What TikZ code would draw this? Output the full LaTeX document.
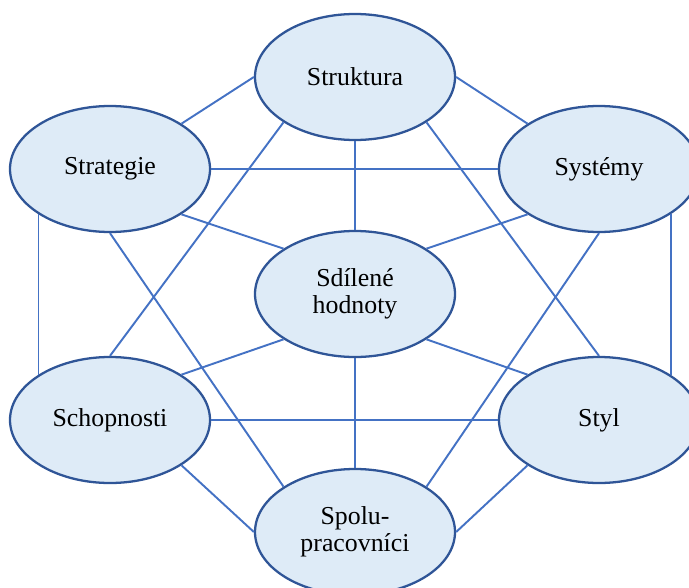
\documentclass[tikz,border=0pt]{standalone}
\usepackage{fontspec}
\setmainfont{Liberation Serif}
\usetikzlibrary{shapes.geometric}

\definecolor{sfill}{HTML}{DEEBF7}
\definecolor{sborder}{HTML}{2F5597}
\definecolor{sline}{HTML}{4472C4}

\begin{document}
\begin{tikzpicture}[
  prvek/.style={ellipse,draw=sborder,line width=1.3pt,fill=sfill,
    minimum width=4cm,minimum height=2.52cm,inner sep=0pt,align=center,
    font=\fontsize{14.7}{15.4}\selectfont},
  vazba/.style={draw=sline,line width=1.1pt}]
  \useasboundingbox (0,0) rectangle (13.78,11.74);
  % sedm prvku
  \node[prvek] (strukt) at (7.10,10.20) {Struktura};
  \node[prvek] (strat) at (2.20,8.36) {Strategie};
  \node[prvek] (syst) at (11.98,8.36) {Systémy};
  \node[prvek] (hodn) at (7.10,5.86) {Sdílené\\hodnoty};
  \node[prvek] (schop) at (2.20,3.34) {Schopnosti};
  \node[prvek] (styl) at (11.98,3.34) {Styl};
  \node[prvek] (spolu) at (7.10,1.10) {Spolu-\\pracovníci};
  % vazby
  \draw[vazba] (strukt.west) -- (strat.north east);
  \draw[vazba] (strukt.east) -- (syst.north west);
  \draw[vazba] (strukt.south) -- (hodn.north);
  \draw[vazba] (strukt.south west) -- (schop.north);
  \draw[vazba] (strukt.south east) -- (styl.north);
  \draw[vazba] (strat.east) -- (syst.west);
  \draw[vazba] (strat.south east) -- (hodn.north west);
  \draw[vazba] (strat.south west) -- (schop.north west);
  \draw[vazba] (strat.south) -- (spolu.north west);
  \draw[vazba] (syst.south west) -- (hodn.north east);
  \draw[vazba] (syst.south east) -- (styl.north east);
  \draw[vazba] (syst.south) -- (spolu.north east);
  \draw[vazba] (hodn.south west) -- (schop.north east);
  \draw[vazba] (hodn.south east) -- (styl.north west);
  \draw[vazba] (hodn.south) -- (spolu.north);
  \draw[vazba] (schop.east) -- (styl.west);
  \draw[vazba] (schop.south east) -- (spolu.west);
  \draw[vazba] (styl.south west) -- (spolu.east);
\end{tikzpicture}
\end{document}
